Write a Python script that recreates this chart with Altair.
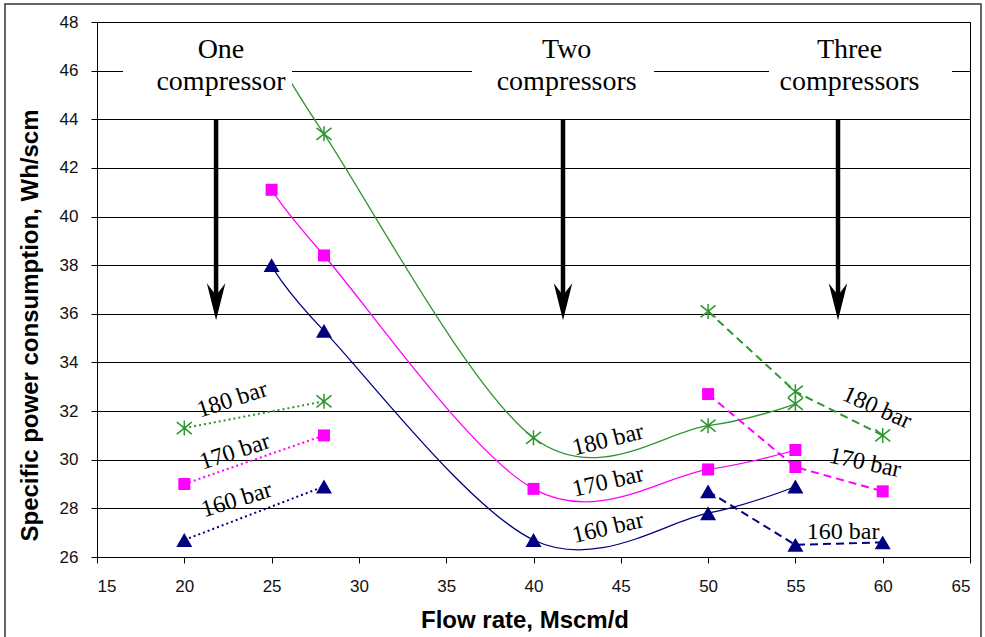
import altair as alt
import pandas as pd

# ---------------- data ----------------
series = ["180 bar", "170 bar", "160 bar"]
series_colors = ["#2f962f", "#ff00ff", "#000080"]

flow_dotted = [20, 28]
dotted_180 = [31.3, 32.4]
dotted_170 = [29.0, 31.0]
dotted_160 = [26.7, 28.9]

flow_solid = [25, 28, 40, 50, 55]
solid_180 = [47.0, 43.4, 30.9, 31.4, 32.3]
solid_170 = [41.1, 38.4, 28.8, 29.6, 30.4]
solid_160 = [38.0, 35.3, 26.7, 27.8, 28.9]

flow_dashed = [50, 55, 60]
dashed_180 = [36.1, 32.8, 31.0]
dashed_170 = [32.7, 29.7, 28.7]
dashed_160 = [28.7, 26.5, 26.6]

x_ticks = [15, 20, 25, 30, 35, 40, 45, 50, 55, 60, 65]
y_ticks = [26, 28, 30, 32, 34, 36, 38, 40, 42, 44, 46, 48]

# curve labels
label_text = ["180 bar", "170 bar", "160 bar",
              "180 bar", "170 bar", "160 bar",
              "180 bar", "170 bar", "160 bar"]
label_flow = [22.75, 22.9, 23.0, 44.27, 44.27, 44.27, 59.67, 58.99, 57.73]
label_spc = [32.46, 30.32, 28.35, 30.81, 29.09, 27.19, 32.13, 29.87, 27.03]
label_angle = [342, 342, 343, 346, 347, 347, 24, 12, 0]

# headings
heading_text = ["One", "compressor", "Two", "compressors", "Three", "compressors"]
heading_flow = [22.1, 22.1, 41.9, 41.9, 58.1, 58.1]
heading_spc = [46.52, 45.2, 46.52, 45.2, 46.52, 45.2]
heading_box_left = [16.49, 36.48, 53.49]
heading_box_right = [26.17, 46.9, 63.97]
heading_box_top = [47.6, 47.6, 47.6]
heading_box_bottom = [44.9, 44.9, 44.9]

# arrows
arrow_flow = [21.82, 41.69, 57.44]
arrow_top = [44.0, 44.0, 44.0]
arrow_head = [36.5, 36.5, 36.5]


def long_rows(flow, groups):
    rows = []
    for s, vals in zip(series, groups):
        for f, v in zip(flow, vals):
            rows.append({"flow": f, "spc": v, "series": s})
    return pd.DataFrame(rows)


df_dotted = long_rows(flow_dotted, [dotted_180, dotted_170, dotted_160])
df_solid = long_rows(flow_solid, [solid_180, solid_170, solid_160])
df_dashed = long_rows(flow_dashed, [dashed_180, dashed_170, dashed_160])
df_points = pd.concat([df_dotted, df_solid, df_dashed], ignore_index=True)

df_labels = pd.DataFrame({"flow": label_flow, "spc": label_spc,
                          "text": label_text, "angle": label_angle})
df_head = pd.DataFrame({"flow": heading_flow, "spc": heading_spc, "text": heading_text})
df_box = pd.DataFrame({"flow": heading_box_left, "flow2": heading_box_right,
                       "spc": heading_box_top, "spc2": heading_box_bottom})
df_arrow = pd.DataFrame({"flow": arrow_flow, "spc": arrow_top, "spc2": arrow_head})
df_arrowhead = pd.DataFrame({"flow": arrow_flow, "spc": arrow_head})

# ---------------- encodings ----------------
xs = alt.Scale(domain=[15, 65], nice=False, zero=False)
ys = alt.Scale(domain=[26, 48], nice=False, zero=False)

X = alt.X("flow:Q", scale=xs,
          axis=alt.Axis(values=x_ticks, title="Flow rate, Mscm/d", grid=False,
                        labelPadding=15, titleX=427.5, titleY=70,
                        titleBaseline="alphabetic", titleAlign="center"))
Y = alt.Y("spc:Q", scale=ys,
          axis=alt.Axis(values=y_ticks, title="Specific power consumption, Wh/scm",
                        grid=True, labelPadding=13, titleX=-60, titleY=303,
                        titleAngle=270, titleBaseline="alphabetic", titleAlign="center"))
C = alt.Color("series:N", scale=alt.Scale(domain=series, range=series_colors), legend=None)

solid = alt.Chart(df_solid).mark_line(interpolate="cardinal", tension=0, strokeWidth=1.3).encode(
    x=X, y=Y, color=C, detail="series:N")
dotted = alt.Chart(df_dotted).mark_line(strokeDash=[2, 3], strokeWidth=2).encode(
    x=X, y=Y, color=C, detail="series:N")
dashed = alt.Chart(df_dashed).mark_line(strokeDash=[8, 5], strokeWidth=2).encode(
    x=X, y=Y, color=C, detail="series:N")

star_path = "M0,-1L0,1M-1,-0.8L1,0.8M-1,0.8L1,-0.8"
stars = alt.Chart(df_points).transform_filter(alt.datum.series == "180 bar").mark_point(
    shape=star_path, filled=False, size=225, strokeWidth=1.5, opacity=1).encode(x=X, y=Y, color=C)
squares = alt.Chart(df_points).transform_filter(alt.datum.series == "170 bar").mark_point(
    shape="square", filled=True, size=144, opacity=1).encode(x=X, y=Y, color=C)
triangles = alt.Chart(df_points).transform_filter(alt.datum.series == "160 bar").mark_point(
    shape="triangle-up", filled=True, size=256, opacity=1).encode(x=X, y=Y, color=C)

labels = alt.Chart(df_labels).mark_text(
    font="Liberation Serif", fontSize=24, color="black", align="center", baseline="middle").encode(
    x=X, y=Y, text="text:N", angle=alt.Angle("angle:Q", scale=None))

boxes = alt.Chart(df_box).mark_rect(color="white", opacity=1).encode(
    x=X, x2=alt.X2("flow2"), y=Y, y2=alt.Y2("spc2"))

heads = alt.Chart(df_head).mark_text(
    font="Liberation Serif", fontSize=28, color="black", align="center", baseline="alphabetic").encode(
    x=X, y=Y, text="text:N")

shafts = alt.Chart(df_arrow).mark_rule(color="black", strokeWidth=4.5).encode(
    x=X, y=Y, y2=alt.Y2("spc2"))
arrow_path = "M0,1L-0.5,-1L0,-0.35L0.5,-1Z"
arrowheads = alt.Chart(df_arrowhead).mark_point(
    shape=arrow_path, filled=True, size=1369, color="black", opacity=1).encode(x=X, y=Y)

frame = alt.Chart(pd.DataFrame({"a": [0]})).mark_rect(
    fill="white", fillOpacity=0, stroke="#333333", strokeWidth=1.5).encode(
    x=alt.value(-92), x2=alt.value(884), y=alt.value(-18), y2=alt.value(700))

chart = alt.layer(
    solid, dotted, dashed, stars, squares, triangles, labels,
    boxes, heads, shafts, arrowheads, frame
).properties(
    width=873, height=535,
    padding={"left": 97, "top": 22, "right": 15, "bottom": 80},
    autosize="none",
    background="white",
).configure_view(
    stroke="black", strokeWidth=1
).configure_axis(
    labelFont="Liberation Sans", labelFontSize=17, labelColor="#111111",
    titleFont="Liberation Sans", titleFontSize=24, titleFontWeight="bold", titleColor="black",
    domainColor="black", domainWidth=1, tickColor="black", tickSize=6, tickWidth=1,
    gridColor="black", gridWidth=1, gridOpacity=1,
)

chart.save("out.html", embed_options={"renderer": "svg", "actions": False})
